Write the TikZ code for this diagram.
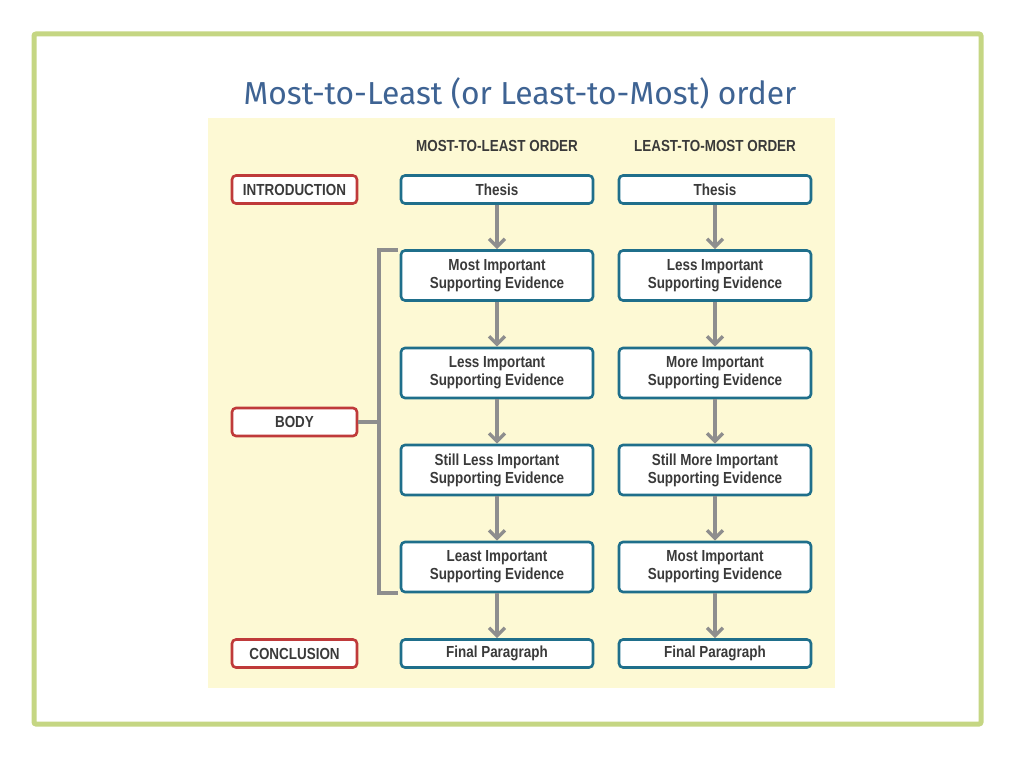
\documentclass[tikz,border=0pt]{standalone}
\usepackage{fontspec}
\setmainfont{Liberation Sans}
\newfontfamily\titlefont{Fira Sans}
\newfontfamily\condfont[FakeStretch=0.84]{Liberation Sans}
\usetikzlibrary{arrows.meta}
\definecolor{framegreen}{HTML}{C5D683}
\definecolor{titleblue}{HTML}{3E6393}
\definecolor{panelyellow}{HTML}{FDF9D4}
\definecolor{boxteal}{HTML}{1F6F8B}
\definecolor{labelred}{HTML}{BF3A3A}
\definecolor{arrowgray}{HTML}{8E8E8E}
\definecolor{textdark}{HTML}{3A3A3A}
\tikzset{
  stepbox/.style={draw=boxteal, line width=2.6pt, fill=white, rounded corners=4pt,
    minimum width=192pt, minimum height=28pt, align=center, inner sep=0pt,
    font=\condfont\bfseries\fontsize{16}{18}\selectfont, text=textdark},
  tallbox/.style={stepbox, minimum height=50pt},
  labelbox/.style={draw=labelred, line width=2.6pt, fill=white, rounded corners=4pt,
    minimum width=125pt, minimum height=28pt, inner sep=0pt,
    font=\condfont\bfseries\fontsize{16}{18}\selectfont, text=textdark},
  header/.style={font=\condfont\bfseries\fontsize{16}{18}\selectfont, text=textdark},
  flow/.style={draw=arrowgray, line width=3.6pt, -{Straight Barb[length=8pt,width=16pt,line width=3.4pt]}},
  bracket/.style={draw=arrowgray, line width=3.6pt}
}
\begin{document}
\begin{tikzpicture}[x=1pt,y=-1pt]
\useasboundingbox (0,0) rectangle (1024,768);
\fill[white] (0,0) rectangle (1024,768);
\draw[framegreen, line width=5pt, rounded corners=2pt] (34,34) rectangle (981,724);
\node[text=titleblue, font=\titlefont\fontsize{31.8}{36}\selectfont] (title) at (520,93) {Most-to-Least (or Least-to-Most) order};
\fill[panelyellow] (208,118) rectangle (835,688);
\node[header] (h1) at (497,146) {MOST-TO-LEAST ORDER};
\node[header] (h2) at (715,146) {LEAST-TO-MOST ORDER};
% labels
\node[labelbox] (intro) at (294.5,189.5) {INTRODUCTION};
\node[labelbox] (body) at (294.5,422) {BODY};
\node[labelbox] (concl) at (294.5,653.5) {CONCLUSION};
% left column
\node[stepbox] (a0) at (497,189.5) {Thesis};
\node[tallbox] (a1) at (497,275.5) {Most Important\\Supporting Evidence};
\node[tallbox] (a2) at (497,373) {Less Important\\Supporting Evidence};
\node[tallbox] (a3) at (497,470) {Still Less Important\\Supporting Evidence};
\node[tallbox] (a4) at (497,567) {Least Important\\Supporting Evidence};
\node[stepbox] (a5) at (497,653.5) {Final Paragraph};
% right column
\node[stepbox] (b0) at (715,189.5) {Thesis};
\node[tallbox] (b1) at (715,275.5) {Less Important\\Supporting Evidence};
\node[tallbox] (b2) at (715,373) {More Important\\Supporting Evidence};
\node[tallbox] (b3) at (715,470) {Still More Important\\Supporting Evidence};
\node[tallbox] (b4) at (715,567) {Most Important\\Supporting Evidence};
\node[stepbox] (b5) at (715,653.5) {Final Paragraph};
% arrows
\foreach \p/\q in {a0/a1,a1/a2,a2/a3,a3/a4,a4/a5,b0/b1,b1/b2,b2/b3,b3/b4,b4/b5}
  \draw[flow] (\p.south) -- (\q.north);
% bracket
\coordinate (bt) at (398,250);
\coordinate (bb) at (398,593);
\coordinate (bj) at (379,422);
\draw[bracket] (bt) -| (379,593) -- (bb);
\draw[bracket] (body.east) -- (bj);
\end{tikzpicture}
\end{document}
